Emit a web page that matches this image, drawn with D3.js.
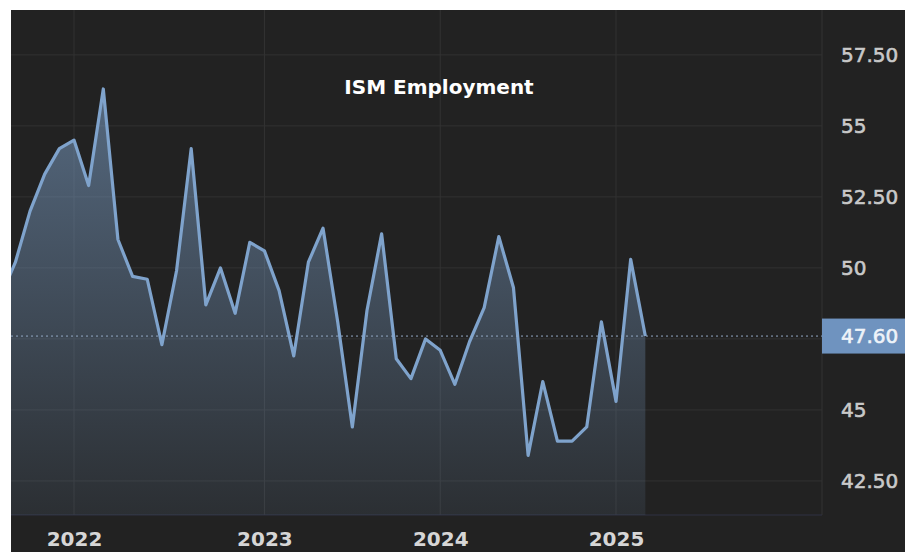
<!DOCTYPE html>
<html>
<head>
<meta charset="utf-8">
<script src="https://cdn.jsdelivr.net/npm/d3@7"></script>
<style>
  body { margin:0; background:#fff; }
  svg { display:block; }
</style>
</head>
<body>
<div id="chart"></div>
<script>
// release months (2022 has two prints in June)
const periods = [
  "2021-08","2021-09","2021-10","2021-11","2021-12",
  "2022-01","2022-02","2022-03","2022-04","2022-05","2022-06","2022-06","2022-07","2022-08","2022-09","2022-10","2022-11","2022-12",
  "2023-01","2023-02","2023-03","2023-04","2023-05","2023-06","2023-07","2023-08","2023-09","2023-10","2023-11","2023-12",
  "2024-01","2024-02","2024-03","2024-04","2024-05","2024-06","2024-07","2024-08","2024-09","2024-10","2024-11","2024-12",
  "2025-01","2025-02","2025-03"]
const values = [
  49.0, 50.2, 52.0, 53.3, 54.2,
  54.5, 52.9, 56.3, 51.0, 49.7, 49.6, 47.3, 49.9, 54.2, 48.7, 50.0, 48.4, 50.9,
  50.6, 49.2, 46.9, 50.2, 51.4, 48.1, 44.4, 48.5, 51.2, 46.8, 46.1, 47.5,
  47.1, 45.9, 47.4, 48.6, 51.1, 49.3, 43.4, 46.0, 43.9, 43.9, 44.4, 48.1,
  45.3, 50.3, 47.6]
const gridTicks = [42.5, 45, 47.5, 50, 52.5, 55, 57.5]
// 47.50 sits under the last-value badge, so it gets no label
const labelTicks = [42.5, 45, 50, 52.5, 55, 57.5]
const title = "ISM Employment"

const W = 905, H = 552
const margin = {top:10, right:83, bottom:37, left:11},
      width  = W - margin.left - margin.right,
      height = H - margin.top - margin.bottom

const data = values.map((v,i) => ({i:i, p:periods[i], v:v}))
const last = data[data.length-1]

const x = d3.scaleLinear().domain([0.7, 56.06]).range([0, width])
const y = d3.scaleLinear().domain([41.3, 59.08]).range([height, 0])

const root = d3.select("#chart")
  .append("svg")
    .attr("width", W)
    .attr("height", H)

root.append("rect")
  .attr("x", margin.left).attr("y", margin.top)
  .attr("width", W - margin.left).attr("height", H - margin.top)
  .attr("fill", "#222")

const svg = root.append("g")
  .attr("transform","translate(" + margin.left + "," + margin.top + ")")

const defs = svg.append("defs")
defs.append("clipPath").attr("id","clip-p")
  .append("rect").attr("width", width).attr("height", height)
const grad = defs.append("linearGradient")
  .attr("id","fill-g")
  .attr("gradientUnits","userSpaceOnUse")
  .attr("x1",0).attr("x2",0)
  .attr("y1", y(d3.max(values))).attr("y2", height)
grad.append("stop").attr("offset",0).attr("stop-color","#7fa3cc").attr("stop-opacity",0.55)
grad.append("stop").attr("offset",1).attr("stop-color","#7fa3cc").attr("stop-opacity",0.1)

// year ticks: first print of each year
const yearIdx = data.filter((d,i) => i > 0 && d.p.slice(0,4) != data[i-1].p.slice(0,4)).map(d => d.i)

// grid
svg.append("g")
  .selectAll("line")
  .data(gridTicks)
  .enter()
  .append("line")
    .attr("x1", 0).attr("x2", width)
    .attr("y1", d => y(d)).attr("y2", d => y(d))
    .style("stroke", "#323232")
svg.append("g")
  .selectAll("line")
  .data(yearIdx)
  .enter()
  .append("line")
    .attr("x1", d => x(d)).attr("x2", d => x(d))
    .attr("y1", 0).attr("y2", height)
    .style("stroke", "#323232")
svg.append("line")
  .attr("x1", width).attr("x2", width).attr("y1", 0).attr("y2", height)
  .style("stroke", "#333")
svg.append("line")
  .attr("x1", 0).attr("x2", width).attr("y1", height).attr("y2", height)
  .style("stroke", "#2f3142")

// area + line
const plot = svg.append("g").attr("clip-path","url(#clip-p)")
plot.append("path")
  .datum(data)
  .attr("d", d3.area().x(d => x(d.i)).y0(height).y1(d => y(d.v)))
  .attr("fill", "url(#fill-g)")
plot.append("path")
  .datum(data)
  .attr("d", d3.line().x(d => x(d.i)).y(d => y(d.v)))
  .attr("fill", "none")
  .attr("stroke", "#7fa3cc")
  .attr("stroke-width", 3.2)
  .attr("stroke-linejoin", "round")

// last value line
svg.append("line")
  .attr("x1", 0).attr("x2", width)
  .attr("y1", y(last.v)).attr("y2", y(last.v))
  .style("stroke", "#93a9c4")
  .style("stroke-dasharray", "2,3")

// y axis on the right
svg.append("g")
  .attr("transform","translate(" + width + ",0)")
  .call(d3.axisRight(y)
    .tickValues(labelTicks)
    .tickSize(0)
    .tickPadding(19)
    .tickFormat(v => v % 1 == 0 ? v : v.toFixed(2)))
  .call(g => g.select(".domain").remove())
  .selectAll("text")
    .style("font-family", "DejaVu Sans")
    .style("font-size", "20px")
    .attr("fill", "#c9c9c9")
    .attr("stroke", "#c9c9c9")
    .attr("stroke-width", 0.6)

// last value badge
svg.append("rect")
  .attr("x", width).attr("y", y(last.v) - 17.5)
  .attr("width", margin.right).attr("height", 35)
  .attr("fill", "#6f93bf")
svg.append("text")
  .attr("x", width + 19).attr("y", y(last.v))
  .attr("dy", "0.35em")
  .style("font-family", "DejaVu Sans")
  .style("font-size", "20px")
  .attr("fill", "#eef3f9")
  .attr("stroke", "#eef3f9")
  .attr("stroke-width", 0.6)
  .text(last.v.toFixed(2))

// x axis
svg.append("g")
  .attr("transform","translate(0," + height + ")")
  .call(d3.axisBottom(x)
    .tickValues(yearIdx)
    .tickSize(0)
    .tickFormat(i => periods[i].slice(0,4)))
  .call(g => g.select(".domain").remove())
  .selectAll("text")
    .attr("y", 31)
    .attr("dy", null)
    .style("font-family", "DejaVu Sans")
    .style("font-weight", "bold")
    .style("font-size", "20px")
    .attr("fill", "#d6d6d6")

// title
svg.append("text")
  .attr("x", 439 - margin.left).attr("y", 94 - margin.top)
  .attr("text-anchor", "middle")
  .style("font-family", "DejaVu Sans")
  .style("font-weight", "bold")
  .style("font-size", "20px")
  .attr("fill", "#fff")
  .text(title)
</script>
</body>
</html>
